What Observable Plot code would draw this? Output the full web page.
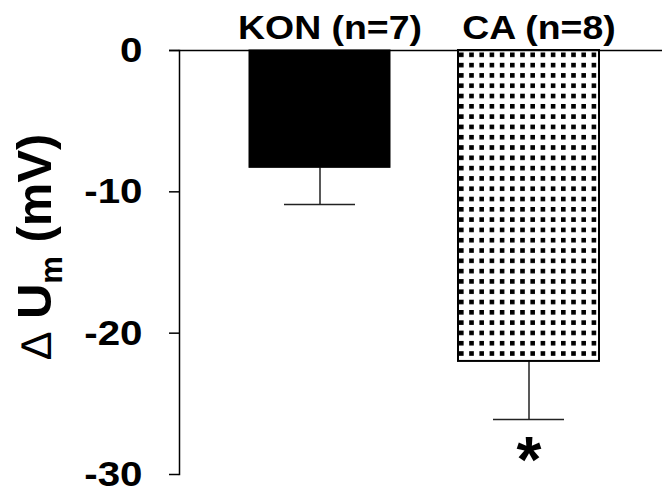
<!DOCTYPE html>
<html>
<head>
<meta charset="utf-8">
<script src="https://cdn.jsdelivr.net/npm/d3@7"></script>
<script src="https://cdn.jsdelivr.net/npm/@observablehq/plot@0.6"></script>
<style>
  html, body { margin: 0; padding: 0; background: white; }
  svg text { font-weight: bold; }
</style>
</head>
<body>
<div id="chart"></div>
<script>
const groups = ["KON", "CA"];
const groupLabels = ["KON (n=7)", "CA (n=8)"];
const means = [-8.3, -22.0];
const lowers = [-10.9, -26.1];
const stars = ["", "*"];
const yTicks = [0, -10, -20, -30];

const data = groups.map((g, i) => ({
  group: g, label: groupLabels[i], mean: means[i], lower: lowers[i], star: stars[i]
}));

const font = "'Liberation Sans', Arial, sans-serif";

const plot = Plot.plot({
  width: 662,
  height: 498,
  marginTop: 50,
  marginBottom: 24,
  marginLeft: 179,
  marginRight: 0,
  style: { fontFamily: font, color: "black", background: "white", overflow: "visible" },
  x: { domain: groups, range: [248, 600], paddingInner: 0.3238, paddingOuter: 0, axis: null },
  y: { domain: [-30, 0] },
  marks: [
    Plot.ruleX(data, { x: "group", y1: "mean", y2: "lower", stroke: "#222", strokeWidth: 1.5 }),
    Plot.tickY(data, { x: "group", y: "lower", inset: 35, stroke: "#222", strokeWidth: 1.5 }),
    Plot.barY(data.filter(d => d.group === "KON"), { x: "group", y: "mean", fill: "black", stroke: "black", strokeWidth: 1 }),
    Plot.barY(data.filter(d => d.group === "CA"), { x: "group", y: "mean", fill: "url(#dots)", stroke: "black", strokeWidth: 2 }),
    Plot.ruleY([0], { insetLeft: -10, stroke: "black", strokeWidth: 1.5 }),
    Plot.frame({ anchor: "left", stroke: "black", strokeWidth: 1.5 }),
    Plot.axisY({
      ticks: yTicks, tickSize: 10, tickPadding: 27, tickFormat: d => String(d),
      fontSize: 36, fontWeight: "bold", label: null, strokeWidth: 1.5
    }),
    Plot.text(data, {
      x: "group", frameAnchor: "top", text: "label", lineAnchor: "bottom",
      dy: -12, dx: 10, fontSize: 34, fontWeight: "bold"
    }),
    Plot.text(data, {
      x: "group", y: "lower", text: "star", lineAnchor: "bottom",
      dy: 63, fontSize: 64, fontWeight: "bold"
    })
  ]
});

document.getElementById("chart").appendChild(plot);

const svg = d3.select(plot);
const xs = plot.scale("x");
const ys = plot.scale("y");
const defs = svg.insert("defs", ":first-child");
const pat = defs.append("pattern")
  .attr("id", "dots")
  .attr("patternUnits", "userSpaceOnUse")
  .attr("x", xs.apply("CA") + 1)
  .attr("y", ys.apply(0) + 2.5)
  .attr("width", 10.2)
  .attr("height", 10.3);
pat.append("rect").attr("width", 10.2).attr("height", 10.3).attr("fill", "white");
pat.append("rect").attr("width", 4.6).attr("height", 4.6).attr("fill", "black");

// widen the bold sans text horizontally (the original lettering is slightly expanded)
const isNum = v => v != null && /^\s*-?[\d.]+(e-?\d+)?\s*$/.test(v);
function stretch(el, sx) {
  const ax = el.getAttribute("x"), ay = el.getAttribute("y");
  let x = 0, y = 0;
  if (isNum(ax)) { x = +ax; el.removeAttribute("x"); }
  if (isNum(ay)) { y = +ay; el.removeAttribute("y"); }
  const tr = el.getAttribute("transform") || "";
  el.setAttribute("transform", `${tr} translate(${x},${y}) scale(${sx},1)`.trim());
}
svg.selectAll('g[aria-label="y-axis tick label"] text').each(function() { stretch(this, 1.12); });
svg.selectAll('g[aria-label="text"] text').each(function() {
  const s = this.textContent;
  if (s && s !== "*") stretch(this, 1.1);
});

// y-axis title
const t = svg.append("text")
  .attr("transform", "translate(51,359) rotate(-90)")
  .attr("text-anchor", "start")
  .attr("font-family", font)
  .attr("fill", "black");
t.append("tspan").attr("font-size", 43).attr("font-weight", "normal").style("font-weight", "normal").text("\u2206");
t.append("tspan").attr("font-size", 49).attr("font-weight", "bold").text(" U");
t.append("tspan").attr("font-size", 31).attr("font-weight", "bold").attr("dy", 11).text("m");
t.append("tspan").attr("font-size", 49).attr("font-weight", "bold").attr("dy", -11).text(" (mV)");
</script>
</body>
</html>
